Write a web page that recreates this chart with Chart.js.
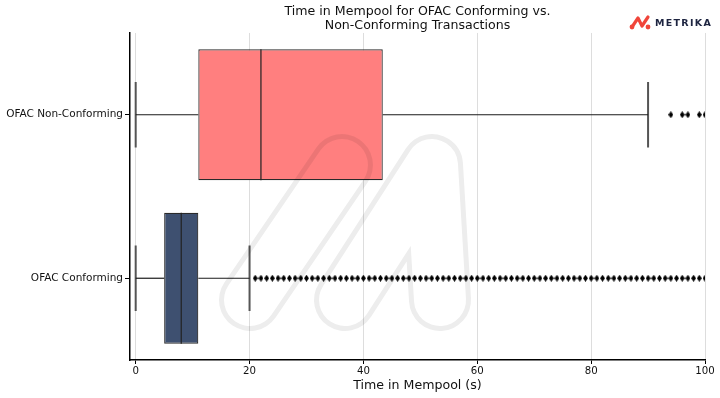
<!DOCTYPE html>
<html>
<head>
<meta charset="utf-8">
<script src="https://cdn.jsdelivr.net/npm/chart.js@4.4.1/dist/chart.umd.min.js"></script>
<style>
  html, body { margin: 0; padding: 0; background: #fff; }
  #wrap { position: relative; width: 720px; height: 398px; }
  #logo { position: absolute; left: 629px; top: 14px; display: flex; align-items: center; }
  #logo span { font-family: "DejaVu Sans", sans-serif; font-weight: bold; font-size: 9.5px;
    letter-spacing: 1.3px; color: #1d2440; margin-left: 4px; }
</style>
</head>
<body>
<div id="wrap">
  <canvas id="c" width="720" height="398"></canvas>
  <div id="logo">
    <svg width="22" height="16" viewBox="0 0 22 16">
      <polyline points="3,13 9,4 13,12 19,3" fill="none" stroke="#f0453a" stroke-width="3.2" stroke-linecap="round" stroke-linejoin="round"/>
      <circle cx="3" cy="13" r="2.4" fill="#f0453a"/>
      <circle cx="19" cy="13" r="2.4" fill="#f0453a"/>
    </svg>
    <span>METRIKA</span>
  </div>
</div>
<script>
const categories = ["OFAC Non-Conforming", "OFAC Conforming"];
const whiskerLow = [0, 0];
const q1 = [11, 5];
const median = [22, 8];
const q3 = [43.4, 11];
const whiskerHigh = [90, 20];
const outliersNonConforming = [94, 96, 97, 99, 100];
const outliersConforming = [21, 22, 23, 24, 25, 26, 27, 28, 29, 30, 31, 32, 33, 34, 35, 36, 37, 38, 39, 40,
  41, 42, 43, 44, 45, 46, 47, 48, 49, 50, 51, 52, 53, 54, 55, 56, 57, 58, 59, 60,
  61, 62, 63, 64, 65, 66, 67, 68, 69, 70, 71, 72, 73, 74, 75, 76, 77, 78, 79, 80,
  81, 82, 83, 84, 85, 86, 87, 88, 89, 90, 91, 92, 93, 94, 95, 96, 97, 98, 99, 100];
const xTicks = [0, 20, 40, 60, 80, 100];
const boxColors = ["#ff7f7f", "#3e5070"];

const font = "DejaVu Sans";

// thin diamond marker like matplotlib 'd'
function diamond() {
  const c = document.createElement("canvas");
  c.width = 5; c.height = 7;
  const g = c.getContext("2d");
  g.fillStyle = "#000";
  g.beginPath();
  g.moveTo(2.5, 0); g.lineTo(5, 3.5); g.lineTo(2.5, 7); g.lineTo(0, 3.5);
  g.closePath(); g.fill();
  return c;
}
const marker = diamond();

// faint logo outline laid over the plot
const watermark = {
  id: "watermark",
  afterDraw(chart) {
    const off = document.createElement("canvas");
    off.width = chart.width; off.height = chart.height;
    const g = off.getContext("2d");
    g.lineCap = "round";
    g.lineJoin = "round";
    const path = () => {
      g.beginPath();
      g.moveTo(250, 300); g.lineTo(342, 165);
      g.moveTo(345, 300); g.lineTo(432, 165); g.lineTo(440, 300);
    };
    path(); g.lineWidth = 62; g.strokeStyle = "#000"; g.stroke();
    g.globalCompositeOperation = "destination-out";
    path(); g.lineWidth = 52; g.stroke();
    const ctx = chart.ctx;
    ctx.save();
    ctx.globalAlpha = 0.07;
    ctx.drawImage(off, 0, 0);
    ctx.restore();
  }
};

function seg(x0, x1, y0, y1, color, width) {
  return {
    type: "line",
    data: [{ x: x0, y: y0 }, { x: x1, y: y1 }],
    borderColor: color,
    borderWidth: width,
    pointRadius: 0,
    order: 1
  };
}

const datasets = [];
categories.forEach((cat, i) => {
  datasets.push(seg(whiskerLow[i], q1[i], i, i, "#1a1a1a", 1.2));
  datasets.push(seg(q3[i], whiskerHigh[i], i, i, "#1a1a1a", 1.2));
  datasets.push(seg(whiskerLow[i], whiskerLow[i], i - 0.2, i + 0.2, "#555", 2));
  datasets.push(seg(whiskerHigh[i], whiskerHigh[i], i - 0.2, i + 0.2, "#555", 2));
  datasets.push(seg(median[i], median[i], i - 0.4, i + 0.4, "#222", 1.2));
});
datasets.push({
  type: "scatter",
  data: outliersNonConforming.map(v => ({ x: v, y: 0 })),
  pointStyle: marker,
  order: 1
});
datasets.push({
  type: "scatter",
  data: outliersConforming.map(v => ({ x: v, y: 1 })),
  pointStyle: marker,
  order: 1
});
datasets.push({
  type: "bar",
  data: categories.map((c, i) => ({ x: [q1[i], q3[i]], y: i })),
  backgroundColor: boxColors,
  borderColor: "#2a2a2a",
  borderWidth: 1.2,
  borderSkipped: false,
  categoryPercentage: 1,
  barPercentage: 0.8,
  order: 2
});

new Chart(document.getElementById("c"), {
  data: { datasets },
  plugins: [watermark],
  options: {
    responsive: false,
    animation: false,
    indexAxis: "y",
    layout: { padding: { left: 0, right: 15, top: 0, bottom: 0 } },
    plugins: {
      legend: { display: false },
      tooltip: { enabled: false },
      title: {
        display: true,
        fullSize: false,
        text: ["Time in Mempool for OFAC Conforming vs.", "Non-Conforming Transactions"],
        color: "#111",
        font: { family: font, size: 12.6, weight: "normal", lineHeight: 1.15 },
        padding: { top: 4, bottom: 0 }
      }
    },
    scales: {
      x: {
        type: "linear",
        min: -1,
        max: 100,
        afterBuildTicks: s => { s.ticks = xTicks.map(v => ({ value: v })); },
        afterFit: s => { s.height = 38; },
        grid: { color: "#dddddd", lineWidth: 1, tickColor: "#000", tickLength: 4 },
        border: { color: "#000", width: 1.5 },
        ticks: { color: "#111", font: { family: font, size: 10.2 }, padding: 1, maxRotation: 0 },
        title: {
          display: true,
          text: "Time in Mempool (s)",
          color: "#111",
          font: { family: font, size: 12.6 },
          padding: { top: 0, bottom: 5 }
        }
      },
      y: {
        type: "linear",
        reverse: true,
        offset: false,
        min: -0.5,
        max: 1.5,
        afterBuildTicks: s => { s.ticks = categories.map((c, i) => ({ value: i })); },
        afterFit: s => { s.width = 130; },
        grid: { offset: false, drawOnChartArea: false, tickColor: "#000", tickLength: 5 },
        border: { color: "#000", width: 1.5 },
        ticks: {
          color: "#111",
          font: { family: font, size: 10.5 },
          padding: 2,
          callback: v => categories[v]
        }
      }
    }
  }
});
</script>
</body>
</html>
